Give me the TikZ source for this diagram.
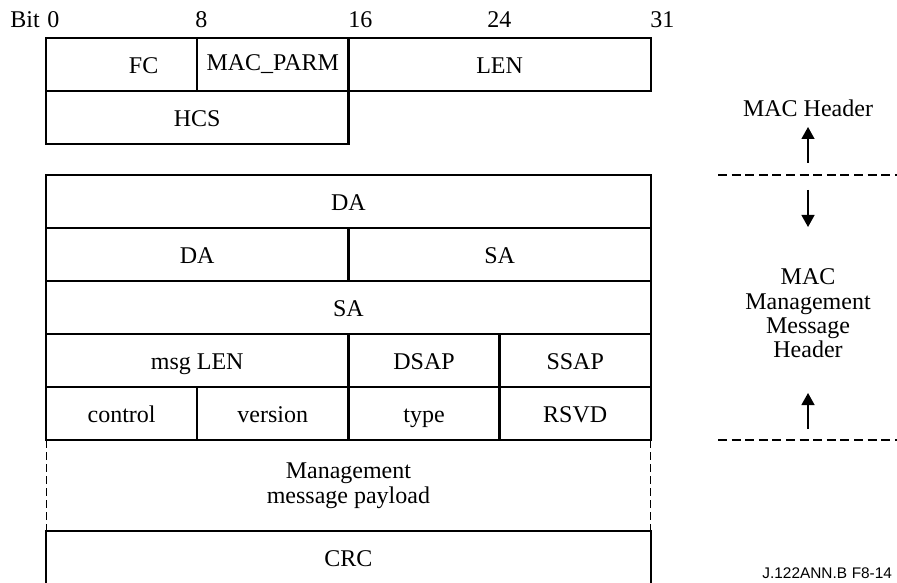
\documentclass[tikz,border=0pt]{standalone}
\usepackage{fontspec}
\setmainfont{Liberation Serif}
\newfontfamily\tagfont{Liberation Sans}
\usetikzlibrary{arrows.meta,positioning}
\tikzset{
	frame/.style={draw, line width=1.2pt, inner sep=0pt, outer sep=0pt,
		minimum height=26.5pt, align=center, font=\fontsize{12}{12.4}\selectfont},
	field/.style={frame, text height=9.4pt, text depth=0pt},
	one/.style={minimum width=75.6pt},
	two/.style={minimum width=151.2pt},
	four/.style={minimum width=302.4pt},
	bitlabel/.style={font=\fontsize{12}{12.4}\selectfont, inner sep=0pt, anchor=base west},
	sidelabel/.style={font=\fontsize{12}{12.2}\selectfont, align=center, inner sep=0pt},
	seprule/.style={line width=0.65pt, dash pattern=on 4.5pt off 2.3pt},
	gapline/.style={line width=0.5pt, dash pattern=on 4pt off 2pt},
	flow/.style={-{Triangle[length=6pt, width=6.5pt]}, line width=0.65pt}
}
\begin{document}
\begin{tikzpicture}[x=0.5pt, y=-0.5pt]
	\useasboundingbox (0,0) rectangle (897,582);
	\clip (0,0) rectangle (897,582);
	
	%% ── Bit ruler ───────────────────────────────────────────────────
	\node[bitlabel] (bitw) at (10,28) {Bit};
	\node[bitlabel] (bit0) at (47,28) {0};
	\node[bitlabel] (bit8) at (195,28) {8};
	\node[bitlabel] (bit16) at (348,28) {16};
	\node[bitlabel] (bit24) at (487,28) {24};
	\node[bitlabel] (bit31) at (650,28) {31};
	
	%% ── MAC header ──────────────────────────────────────────────────
	\node[field, one, anchor=north west] (fc) at (46,38) {\hspace*{22pt}FC};
	\node[frame, one, right=0pt of fc] (parm) {MAC\_PARM};
	\node[field, two, right=0pt of parm] (len) {LEN};
	\node[field, two, below right=0pt of fc.south west] (hcs) {HCS};
	
	%% ── Management message header ───────────────────────────────────
	\node[field, four, anchor=north west] (da1) at (46,175) {DA};
	\node[field, two, below right=0pt of da1.south west] (da2) {DA};
	\node[field, two, right=0pt of da2] (sa1) {SA};
	\node[field, four, below right=0pt of da2.south west] (sa2) {SA};
	\node[field, two, below right=0pt of sa2.south west] (msglen) {msg LEN};
	\node[field, one, right=0pt of msglen] (dsap) {DSAP};
	\node[field, one, right=0pt of dsap] (ssap) {SSAP};
	\node[field, one, below right=0pt of msglen.south west] (ctrl) {control};
	\node[field, one, right=0pt of ctrl] (vers) {version};
	\node[field, one, right=0pt of vers] (mtype) {type};
	\node[field, one, right=0pt of mtype] (rsvd) {RSVD};
	
	%% ── Payload and CRC ─────────────────────────────────────────────
	\node[frame, four, draw=none, minimum height=45.5pt,
	below right=0pt of ctrl.south west] (load)
	{Management\\message payload};
	\draw[gapline] (load.north west) -- (load.south west);
	\draw[gapline] (load.north east) -- (load.south east);
	\node[field, four, below right=0pt of load.south west] (crc) {CRC};
	
	%% ── Side notes ──────────────────────────────────────────────────
	\coordinate (topsepL) at (718,175);
	\coordinate (topsepR) at (897,175);
	\coordinate (botsepL) at (718,440);
	\coordinate (botsepR) at (897,440);
	\draw[seprule] (topsepL) -- (topsepR);
	\draw[seprule] (botsepL) -- (botsepR);
	
	\node[sidelabel] (machdr) at (808,108) {MAC Header};
	\coordinate (hdrtail) at (808,163);
	\coordinate (hdrtip) at (808,127);
	\draw[flow] (hdrtail) -- (hdrtip);
	
	\node[sidelabel] (mmhdr) at (808,313.5) {MAC\\Management\\Message\\Header};
	\coordinate (downtail) at (808,190);
	\coordinate (downtip) at (808,227);
	\draw[flow] (downtail) -- (downtip);
	\coordinate (uptail) at (808,429);
	\coordinate (uptip) at (808,393);
	\draw[flow] (uptail) -- (uptip);
	
	\node[font=\tagfont\fontsize{7.7}{8}\selectfont, inner sep=0pt,
	anchor=base west] (figtag) at (762,578) {J.122ANN.B\hspace{0.3em}F8-14};
\end{tikzpicture}
\end{document}
